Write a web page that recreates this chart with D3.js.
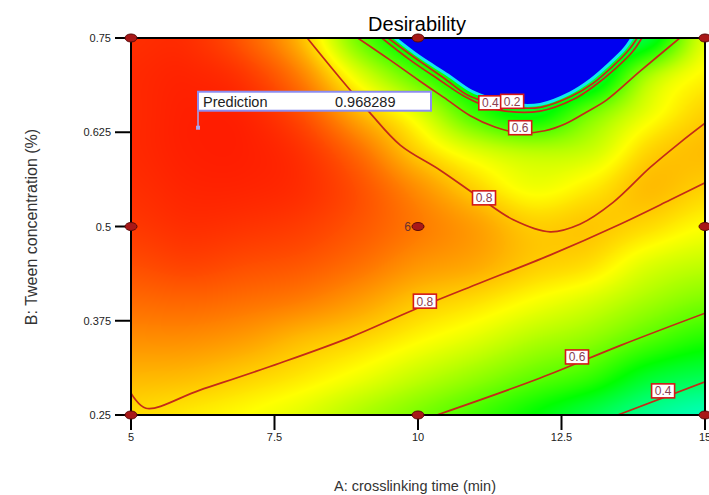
<!DOCTYPE html>
<html><head><meta charset="utf-8">
<script src="https://cdn.jsdelivr.net/npm/d3@7/dist/d3.min.js"></script>
<style>html,body{margin:0;padding:0;background:#fff;overflow:hidden}svg{display:block}</style>
</head><body>
<svg id="chart" width="709" height="495"></svg>
<script>
// ---- data ----
const xTicks = [5, 7.5, 10, 12.5, 15];
const xTickLabels = ["5", "7.5", "10", "12.5", "15"];
const yTicks = [0.25, 0.375, 0.5, 0.625, 0.75];
const yTickLabels = ["0.25", "0.375", "0.5", "0.625", "0.75"];

// desirability estimated on a grid (A = 5..15, B = 0.25..0.75)
const gridA = [5, 6, 7, 8, 9, 10, 11, 12, 13, 14, 15];
const gridB = [0.25, 0.30, 0.35, 0.40, 0.45, 0.50, 0.55, 0.60, 0.65, 0.70, 0.75];
const dB025 = [0.785, 0.77, 0.75, 0.72, 0.67, 0.62, 0.565, 0.50, 0.43, 0.36, 0.32];
const dB030 = [0.82, 0.815, 0.795, 0.77, 0.735, 0.69, 0.645, 0.595, 0.55, 0.46, 0.42];
const dB035 = [0.86, 0.86, 0.845, 0.815, 0.79, 0.755, 0.72, 0.675, 0.64, 0.58, 0.53];
const dB040 = [0.895, 0.90, 0.89, 0.875, 0.845, 0.805, 0.78, 0.745, 0.71, 0.66, 0.62];
const dB045 = [0.925, 0.935, 0.925, 0.915, 0.89, 0.855, 0.835, 0.80, 0.78, 0.72, 0.69];
const dB050 = [0.945, 0.955, 0.95, 0.94, 0.915, 0.88, 0.845, 0.80, 0.805, 0.785, 0.75];
const dB055 = [0.955, 0.965, 0.965, 0.955, 0.92, 0.86, 0.795, 0.74, 0.77, 0.815, 0.795];
const dB060 = [0.96, 0.97, 0.97, 0.95, 0.89, 0.795, 0.72, 0.68, 0.70, 0.79, 0.815];
const dB065 = [0.96, 0.97, 0.965, 0.92, 0.82, 0.72, 0.56, 0.48, 0.61, 0.73, 0.795];
const dB070 = [0.96, 0.965, 0.945, 0.87, 0.72, 0.58, 0.45, 0.40, 0.42, 0.66, 0.76];
const dB075 = [0.955, 0.955, 0.91, 0.81, 0.60, 0.45, 0.40, 0.40, 0.40, 0.45, 0.72];

// zero-desirability region (blue) boundary
const zeroRegion = [[9.60,0.75],[10.03,0.725],[10.52,0.701],[10.92,0.680],[11.29,0.669],[11.64,0.662],[12.13,0.662],[12.65,0.677],[13.00,0.694],[13.35,0.717],[13.59,0.735],[13.73,0.75]];

// contour lines [A, B]
const contour02 = [[9.48,0.75],[9.95,0.7235],[10.45,0.697],[10.87,0.674],[11.25,0.664],[11.64,0.658],[12.13,0.658],[12.68,0.673],[13.05,0.690],[13.40,0.713],[13.66,0.733],[13.82,0.75]];
const contour04Upper = [[9.37,0.75],[9.86,0.721],[10.38,0.694],[10.82,0.672],[11.17,0.660],[11.52,0.653],[12.13,0.653],[12.72,0.669],[13.10,0.688],[13.45,0.710],[13.73,0.731],[13.90,0.75]];
const contour06Upper = [[8.95,0.75],[9.51,0.721],[10.03,0.693],[10.51,0.668],[10.91,0.647],[11.34,0.632],[11.78,0.624],[12.21,0.627],[12.56,0.636],[12.94,0.652],[13.29,0.668],[13.87,0.706],[14.56,0.75]];
const contour08Upper = [[8.07,0.75],[8.64,0.697],[9.16,0.651],[9.69,0.608],[10.38,0.575],[11.08,0.538],[11.66,0.509],[12.30,0.493],[12.82,0.503],[13.40,0.532],[14.04,0.578],[14.56,0.611],[15.0,0.637]];
const contour08Lower = [[5.0,0.279],[5.26,0.259],[6.20,0.283],[7.60,0.319],[8.82,0.353],[9.91,0.389],[11.08,0.425],[12.30,0.462],[13.52,0.503],[14.39,0.535],[15.0,0.558]];
const contour06Lower = [[10.33,0.25],[12.13,0.299],[13.52,0.342],[15.0,0.385]];
const contour04Lower = [[13.48,0.25],[15.0,0.294]];

const contourLabelText = ["0.4", "0.2", "0.6", "0.8", "0.8", "0.6", "0.4"];
const contourLabelA = [11.26, 11.64, 11.78, 11.15, 10.12, 12.77, 14.27];
const contourLabelB = [0.664, 0.666, 0.631, 0.538, 0.401, 0.327, 0.282];

const designA = [5, 5, 5, 10, 10, 10, 15, 15, 15];
const designB = [0.25, 0.5, 0.75, 0.25, 0.5, 0.75, 0.25, 0.5, 0.75];
const centerRuns = "6";

const predA = 6.15, predB = 0.631, predValue = "0.968289";

// ---- drawing ----
const rows = [dB025, dB030, dB035, dB040, dB045, dB050, dB055, dB060, dB065, dB070, dB075];
const pLeft = 131, pRight = 705, pTop = 38, pBottom = 415;
const x = d3.scaleLinear().domain([5, 15]).range([pLeft, pRight]);
const y = d3.scaleLinear().domain([0.25, 0.75]).range([pBottom, pTop]);
const color = d3.scaleLinear().domain([0, 0.25, 0.5, 0.75, 1])
  .range(["#0000ff", "#00ffff", "#00ff00", "#ffff00", "#ff0000"]).clamp(true);

const svg = d3.select("#chart");
const font = "'Liberation Sans', Arial, sans-serif";

// heat map via canvas
const W = pRight - pLeft, H = pBottom - pTop;
const cv = document.createElement("canvas");
cv.width = W; cv.height = H;
const ctx = cv.getContext("2d");
const img = ctx.createImageData(W, H);
const lut = d3.range(1001).map(i => d3.rgb(color(i / 1000)));
const nA = gridA.length, nB = gridB.length;
function g(i, j) { i = Math.max(0, Math.min(nA - 1, i)); j = Math.max(0, Math.min(nB - 1, j)); return rows[j][i]; }
function cr(p0, p1, p2, p3, t) { return p1 + 0.5 * t * (p2 - p0 + t * (2 * p0 - 5 * p1 + 4 * p2 - p3 + t * (3 * (p1 - p2) + p3 - p0))); }
function value(a, b) {
  const fa = (a - gridA[0]) / (gridA[1] - gridA[0]);
  const fb = (b - gridB[0]) / (gridB[1] - gridB[0]);
  const i = Math.floor(fa), j = Math.floor(fb), ta = fa - i, tb = fb - j;
  const col = [];
  for (let k = -1; k <= 2; k++) col.push(cr(g(i - 1, j + k), g(i, j + k), g(i + 1, j + k), g(i + 2, j + k), ta));
  return Math.max(0, Math.min(1, cr(col[0], col[1], col[2], col[3], tb)));
}
for (let py = 0; py < H; py++) {
  const b = y.invert(pTop + py + 0.5);
  for (let px = 0; px < W; px++) {
    const a = x.invert(pLeft + px + 0.5);
    const c = lut[Math.round(value(a, b) * 1000)];
    const o = (py * W + px) * 4;
    img.data[o] = c.r; img.data[o + 1] = c.g; img.data[o + 2] = c.b; img.data[o + 3] = 255;
  }
}
ctx.putImageData(img, 0, 0);

svg.append("defs").append("clipPath").attr("id", "plotClip")
  .append("rect").attr("x", pLeft).attr("y", pTop).attr("width", W).attr("height", H);

svg.append("image").attr("x", pLeft).attr("y", pTop).attr("width", W).attr("height", H)
  .attr("preserveAspectRatio", "none").attr("href", cv.toDataURL());

const plot = svg.append("g").attr("clip-path", "url(#plotClip)");
const line = d3.line().x(d => x(d[0])).y(d => y(d[1])).curve(d3.curveCatmullRom.alpha(0.5));

// zero region
const zr = zeroRegion;
plot.append("path")
  .attr("d", line(zr) + `L${x(zr[zr.length - 1][0])},${y(0.78)}L${x(zr[0][0])},${y(0.78)}Z`)
  .attr("fill", "#0000f0").attr("stroke", "#10e8f0").attr("stroke-width", 3);

[contour02, contour04Upper, contour06Upper, contour08Upper, contour08Lower, contour06Lower, contour04Lower]
  .forEach(c => plot.append("path").attr("d", line(c)).attr("fill", "none")
    .attr("stroke", "#c42a18").attr("stroke-width", 1.7));

// contour labels
contourLabelText.forEach((t, i) => {
  const cx = x(contourLabelA[i]), cy = y(contourLabelB[i]);
  plot.append("rect").attr("x", cx - 11.5).attr("y", cy - 7).attr("width", 23).attr("height", 14)
    .attr("fill", "#fff").attr("stroke", "#d41818").attr("stroke-width", 1.6);
  plot.append("text").attr("x", cx).attr("y", cy + 4.5).attr("text-anchor", "middle")
    .attr("font-family", font).attr("font-size", 12).attr("fill", "#8a4050").text(t);
});

// frame
svg.append("rect").attr("x", pLeft).attr("y", pTop).attr("width", W).attr("height", H)
  .attr("fill", "none").attr("stroke", "#000").attr("stroke-width", 2);

// ticks
const xAxis = svg.append("g");
xTicks.forEach((t, i) => {
  xAxis.append("line").attr("x1", x(t)).attr("x2", x(t)).attr("y1", pBottom).attr("y2", pBottom + 15)
    .attr("stroke", "#000").attr("stroke-width", 2);
  xAxis.append("text").attr("x", x(t)).attr("y", pBottom + 26).attr("text-anchor", "middle")
    .attr("font-family", font).attr("font-size", 11).attr("fill", "#222").text(xTickLabels[i]);
});
const yAxis = svg.append("g");
yTicks.forEach((t, i) => {
  yAxis.append("line").attr("x1", pLeft - 16).attr("x2", pLeft).attr("y1", y(t)).attr("y2", y(t))
    .attr("stroke", "#000").attr("stroke-width", 2);
  yAxis.append("text").attr("x", pLeft - 20).attr("y", y(t) + 4).attr("text-anchor", "end")
    .attr("font-family", font).attr("font-size", 11).attr("fill", "#222").text(yTickLabels[i]);
});

// design points
designA.forEach((a, i) => {
  svg.append("ellipse").attr("cx", x(a)).attr("cy", y(designB[i])).attr("rx", 6).attr("ry", 4)
    .attr("fill", "#a81818").attr("stroke", "#5a0808").attr("stroke-width", 1);
});
svg.append("text").attr("x", x(10) - 7).attr("y", y(0.5) + 4).attr("text-anchor", "end")
  .attr("font-family", font).attr("font-size", 12).attr("fill", "#6a3030").text(centerRuns);

// prediction flag
const ppx = x(predA), ppy = y(predB);
svg.append("line").attr("x1", ppx + 1).attr("x2", ppx + 1).attr("y1", ppy).attr("y2", ppy - 17)
  .attr("stroke", "#a8a8f0").attr("stroke-width", 1.5);
svg.append("rect").attr("x", ppx - 1).attr("y", ppy - 2).attr("width", 4).attr("height", 4).attr("fill", "#a8a8f0");
svg.append("rect").attr("x", ppx + 1).attr("y", ppy - 36).attr("width", 233).attr("height", 19)
  .attr("fill", "#fff").attr("stroke", "#8c8cf0").attr("stroke-width", 2);
svg.append("text").attr("x", ppx + 6).attr("y", ppy - 21).attr("font-family", font).attr("font-size", 14.5)
  .attr("fill", "#222").text("Prediction");
svg.append("text").attr("x", ppx + 138).attr("y", ppy - 21).attr("font-family", font).attr("font-size", 14.5)
  .attr("fill", "#222").text(predValue);

// title and axis titles
svg.append("text").attr("x", 417).attr("y", 31).attr("text-anchor", "middle")
  .attr("font-family", font).attr("font-size", 20).attr("fill", "#000").text("Desirability");
svg.append("text").attr("x", 415).attr("y", 491).attr("text-anchor", "middle")
  .attr("font-family", font).attr("font-size", 14.5).attr("fill", "#333").text("A: crosslinking time (min)");
svg.append("text").attr("transform", "translate(37,227) rotate(-90)").attr("text-anchor", "middle")
  .attr("font-family", font).attr("font-size", 16).attr("fill", "#333").text("B: Tween concentration (%)");
</script>
</body></html>
